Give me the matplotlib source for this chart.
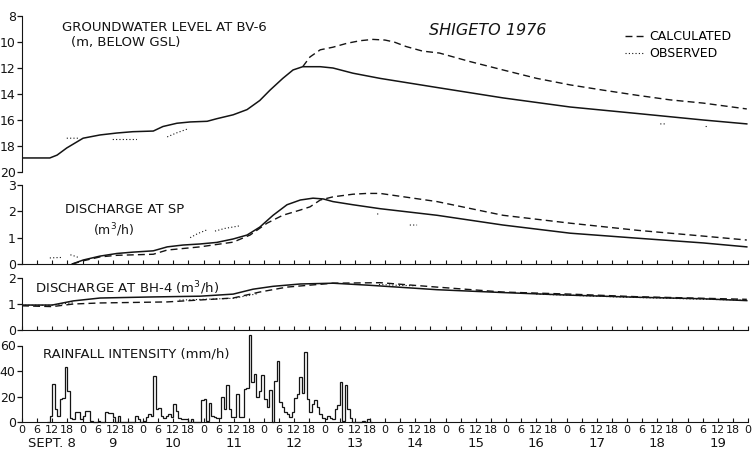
import numpy as np
import matplotlib
matplotlib.use("Agg")
import matplotlib.pyplot as plt
from matplotlib.lines import Line2D

# time in days since Sept. 8, 0h
# --- groundwater level at BV-6 (m below GSL)
gw_solid_day = [0.0, 0.46, 0.58, 0.74, 1.01, 1.29, 1.57, 1.83, 2.17, 2.33, 2.56, 2.78,
                3.06, 3.22, 3.49, 3.72, 3.93, 4.10, 4.31, 4.48, 4.64, 4.93, 5.14, 5.47,
                5.92, 6.86, 7.95, 9.06, 10.17, 11.26, 11.98]
gw_solid = [18.92, 18.92, 18.7, 18.15, 17.4, 17.15, 17.0, 16.9, 16.85, 16.5, 16.25, 16.15,
            16.1, 15.9, 15.6, 15.2, 14.5, 13.7, 12.8, 12.15, 11.9, 11.9, 12.0, 12.4,
            12.8, 13.5, 14.3, 15.0, 15.5, 16.0, 16.3]
gw_calc_day = [4.64, 4.76, 4.93, 5.14, 5.37, 5.59, 5.80, 6.00, 6.15, 6.35, 6.62, 6.90,
               7.40, 7.95, 8.51, 9.06, 9.60, 10.17, 10.71, 11.26, 11.98]
gw_calc = [11.9, 11.15, 10.6, 10.4, 10.1, 9.9, 9.8, 9.85, 10.0, 10.35, 10.7, 10.85,
           11.5, 12.15, 12.8, 13.3, 13.7, 14.1, 14.45, 14.7, 15.15]
gw_obs_day = [0.74, 0.96, np.nan, 1.50, 1.90, np.nan, 2.40, 2.55, 2.73, np.nan,
              10.55, 10.66, np.nan, 11.30, 11.34]
gw_obs = [17.4, 17.4, np.nan, 17.5, 17.5, np.nan, 17.3, 17.0, 16.7, np.nan,
          16.3, 16.3, np.nan, 16.5, 16.5]

# --- discharge at SP (m3/h)
sp_solid_day = [0.83, 1.01, 1.29, 1.57, 1.83, 2.17, 2.40, 2.66, 2.94, 3.22, 3.49, 3.72,
                3.93, 4.15, 4.38, 4.60, 4.81, 4.98, 5.14, 5.47, 5.92, 6.86, 7.95, 9.06,
                10.17, 11.26, 11.98]
sp_solid = [0.0, 0.15, 0.3, 0.4, 0.45, 0.5, 0.65, 0.72, 0.76, 0.82, 0.95, 1.1,
            1.4, 1.85, 2.25, 2.43, 2.5, 2.47, 2.37, 2.25, 2.1, 1.85, 1.48, 1.17,
            0.98, 0.8, 0.65]
sp_calc_day = [0.83, 1.01, 1.29, 1.57, 2.17, 2.40, 2.94, 3.49, 3.77, 4.05, 4.31, 4.60,
               4.76, 4.93, 5.14, 5.47, 5.70, 5.92, 6.86, 7.95, 9.06, 10.17, 11.26, 11.98]
sp_calc = [0.0, 0.12, 0.27, 0.33, 0.37, 0.53, 0.65, 0.83, 1.1, 1.55, 1.85, 2.05,
           2.17, 2.43, 2.55, 2.65, 2.68, 2.68, 2.37, 1.85, 1.55, 1.28, 1.06, 0.91]
sp_obs_day = [0.46, 0.55, 0.68, np.nan, 0.80, 0.87, 0.93, np.nan, 2.78, 2.90, 3.06,
              np.nan, 3.19, 3.35, 3.60, np.nan, 5.87, 5.90, np.nan, 6.41, 6.53]
sp_obs = [0.23, 0.24, 0.25, np.nan, 0.35, 0.3, 0.25, np.nan, 1.0, 1.15, 1.3,
          np.nan, 1.25, 1.35, 1.45, np.nan, 1.9, 1.9, np.nan, 1.48, 1.48]

# --- discharge at BH-4 (m3/h)
bh_solid_day = [0.0, 0.5, 0.85, 1.29, 2.12, 2.94, 3.49, 3.82, 4.15, 4.60, 5.14,
                5.75, 6.86, 7.95, 9.06, 10.17, 11.26, 11.98]
bh_solid = [0.96, 0.96, 1.12, 1.23, 1.27, 1.30, 1.38, 1.57, 1.68, 1.77, 1.80,
            1.72, 1.55, 1.44, 1.34, 1.26, 1.20, 1.13]
bh_calc_day = [0.0, 0.5, 0.85, 1.29, 2.40, 3.49, 3.93, 4.38, 5.14, 5.92, 6.86,
               7.95, 9.06, 10.17, 11.26, 11.98]
bh_calc = [0.93, 0.90, 1.00, 1.04, 1.08, 1.23, 1.46, 1.65, 1.80, 1.82, 1.65,
           1.46, 1.38, 1.28, 1.22, 1.18]
bh_obs_day = [0.05, 0.45, 0.85, np.nan, 2.60, 3.00, 3.50, 3.90, np.nan, 5.90, 6.20, 6.50,
              np.nan, 8.50, 9.00, 9.50, 10.00, 10.50, 11.00, 11.50, 11.95]
bh_obs = [0.95, 0.95, 1.05, np.nan, 1.15, 1.18, 1.22, 1.40, np.nan, 1.75, 1.72, 1.70,
          np.nan, 1.38, 1.34, 1.30, 1.26, 1.23, 1.20, 1.17, 1.15]

# --- hourly rainfall intensity (mm/h), first value is the hour starting Sept. 8, 10h
rain_start_hour = 10
rain = [0, 5, 30, 10, 5, 18, 19, 43, 24, 3, 2, 8, 8, 2, 5, 9, 9, 1, 0, 0,
        1, 0, 0, 8, 7, 7, 4, 0, 5, 0, 0, 0, 0, 0, 0, 5, 2, 0, 1, 4,
        6, 5, 36, 10, 11, 5, 3, 5, 6, 4, 14, 9, 3, 2, 2, 2, 0, 2, 0, 0,
        0, 17, 18, 1, 15, 5, 4, 3, 3, 20, 10, 29, 10, 4, 4, 22, 4, 4, 26, 27,
        68, 31, 38, 20, 24, 37, 18, 12, 25, 0, 32, 48, 16, 12, 8, 6, 4, 8, 19, 22,
        35, 23, 55, 18, 8, 14, 17, 12, 6, 3, 2, 5, 3, 2, 10, 13, 31, 1, 29, 10,
        3, 0, 0, 0, 0, 1, 0, 2, 0]

hour_labels = ["0", "6", "12", "18"]
date_labels = ["SEPT. 8", "9", "10", "11", "12", "13", "14", "15", "16", "17", "18", "19"]

fig = plt.figure(figsize=(7.52, 4.5), dpi=100)
L, W = 22 / 752, 726 / 752
ax1 = fig.add_axes([L, 1 - 172 / 450, W, 156 / 450])
ax2 = fig.add_axes([L, 1 - 264 / 450, W, 79 / 450])
ax3 = fig.add_axes([L, 1 - 330 / 450, W, 52 / 450])
ax4 = fig.add_axes([L, 1 - 422 / 450, W, 89.25 / 450])

ink = "0.08"
dash = (0, (5, 3))
dot = (0, (1, 2))

for ax in (ax1, ax2, ax3, ax4):
    ax.set_xlim(0, 12)
    ax.patch.set_alpha(0)
    for s in ("top", "right"):
        ax.spines[s].set_visible(False)
    ax.spines["left"].set_color(ink)
    ax.spines["bottom"].set_color(ink)
    ax.tick_params(axis="y", direction="out", length=3.5, width=0.9, pad=1,
                   labelsize=9, colors=ink)
    ax.set_xticks(np.arange(0, 12.01, 0.25))
    ax.tick_params(axis="x", direction="in", length=3, width=0.8, labelbottom=False,
                   colors=ink)

# groundwater panel
ax1.plot(gw_solid_day, gw_solid, color=ink, lw=1.1)
ax1.plot(gw_calc_day, gw_calc, color=ink, lw=1.0, ls=dash)
ax1.plot(gw_obs_day, gw_obs, color=ink, lw=0.8, ls=dot)
ax1.set_ylim(20, 8)
ax1.set_yticks([8, 10, 12, 14, 16, 18, 20])
ax1.spines["bottom"].set_visible(False)
ax1.tick_params(axis="x", length=0)
ax1.text(0.055, 0.929, "GROUNDWATER LEVEL AT BV-6", transform=ax1.transAxes,
         fontsize=9.5, va="center", color=ink)
ax1.text(0.068, 0.827, "(m, BELOW GSL)", transform=ax1.transAxes,
         fontsize=9.5, va="center", color=ink)
ax1.text(0.56, 0.91, "SHIGETO 1976", transform=ax1.transAxes, fontsize=11.5,
         style="italic", va="center", color=ink)
handles = [Line2D([], [], color=ink, lw=1.0, ls=dash),
           Line2D([], [], color=ink, lw=0.8, ls=dot)]
ax1.legend(handles, ["CALCULATED", "OBSERVED"], loc="upper left",
           bbox_to_anchor=(0.822, 0.95), frameon=False, fontsize=9,
           handlelength=1.6, handletextpad=0.3, labelspacing=0.35, borderpad=0)

# SP discharge panel
ax2.plot(sp_solid_day, sp_solid, color=ink, lw=1.1)
ax2.plot(sp_calc_day, sp_calc, color=ink, lw=1.0, ls=dash)
ax2.plot(sp_obs_day, sp_obs, color=ink, lw=0.8, ls=dot)
ax2.set_ylim(0, 3)
ax2.set_yticks([0, 1, 2, 3])
ax2.text(0.059, 0.684, "DISCHARGE AT SP", transform=ax2.transAxes,
         fontsize=9.5, va="center", color=ink)
ax2.text(0.098, 0.43, "(m$^3$/h)", transform=ax2.transAxes,
         fontsize=9, va="center", color=ink)

# BH-4 discharge panel
ax3.plot(bh_solid_day, bh_solid, color=ink, lw=1.1)
ax3.plot(bh_calc_day, bh_calc, color=ink, lw=1.0, ls=dash)
ax3.plot(bh_obs_day, bh_obs, color=ink, lw=0.8, ls=dot)
ax3.set_ylim(0, 2)
ax3.set_yticks([0, 1, 2])
ax3.text(0.018, 0.81, "DISCHARGE AT BH-4 (m$^3$/h)", transform=ax3.transAxes,
         fontsize=9.5, va="center", color=ink)

# rainfall panel
edges = (rain_start_hour + np.arange(len(rain) + 1)) / 24.0
ax4.stairs(rain, edges, baseline=0, fill=False, color=ink, lw=0.9, clip_on=False)
ax4.set_ylim(0, 70)
ax4.set_yticks([0, 20, 40, 60])
ax4.spines["left"].set_bounds(0, 60)
ax4.text(0.029, 0.762, "RAINFALL INTENSITY (mm/h)", transform=ax4.transAxes,
         fontsize=9.5, va="center", color=ink)
ticks = np.arange(0, 12.01, 0.25)
ax4.set_xticks(ticks)
ax4.set_xticklabels([hour_labels[i % 4] for i in range(len(ticks))])
ax4.tick_params(axis="x", labelbottom=True, labelsize=8, pad=2)
for i, lab in enumerate(date_labels):
    ax4.text(i + 0.5, -0.245, lab, transform=ax4.get_xaxis_transform(),
             ha="center", va="center", fontsize=9.5, color=ink)

fig.savefig("out.png", dpi=100)
